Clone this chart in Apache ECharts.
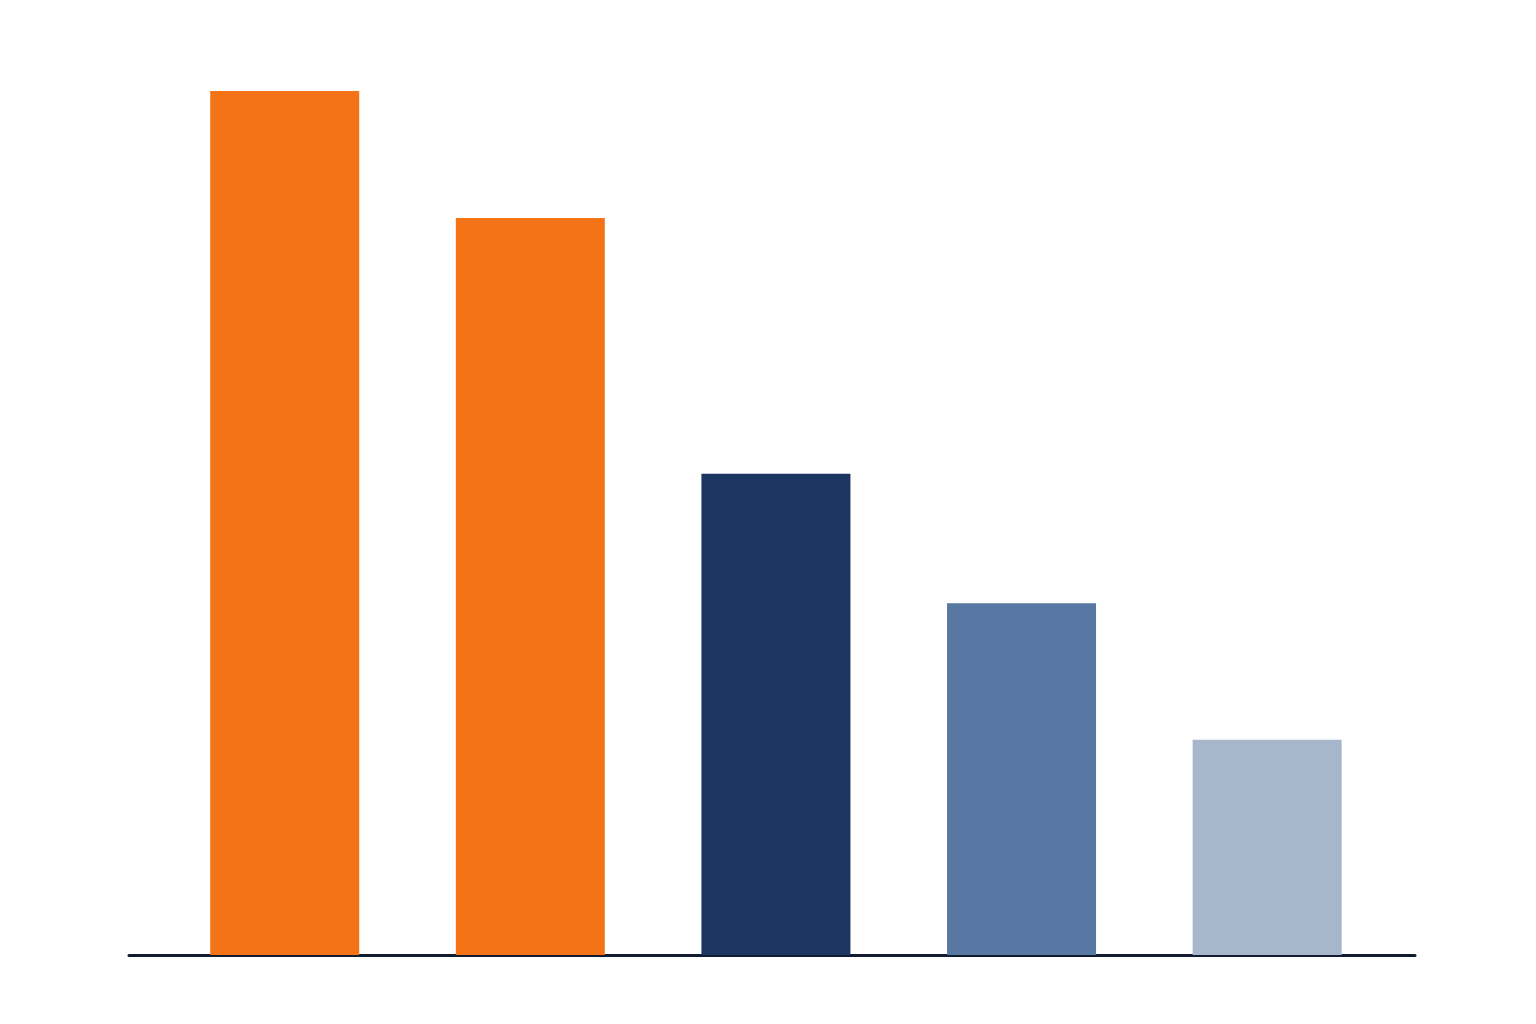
<!DOCTYPE html>
<html>
<head>
<meta charset="utf-8">
<title>Bar chart</title>
<script src="https://cdn.jsdelivr.net/npm/echarts@6/dist/echarts.min.js"></script>
<style>
  html, body { margin: 0; padding: 0; background: #fff; }
  #main { width: 1536px; height: 1024px; }
</style>
</head>
<body>
<div id="main"></div>
<script>
// data (no labels shown in the original)
var categories = ['A', 'B', 'C', 'D', 'E'];
var values = [100, 85.3, 55.7, 40.7, 24.9];
var colors = ['#F37316', '#F37316', '#1D3661', '#5878A3', '#A7B6CB'];

var chart = echarts.init(document.getElementById('main'));

// bars placed by category index on a value axis so the baseline can run wider than the bars
var barData = values.map(function (v, i) {
  return { value: [i, v], name: categories[i], itemStyle: { color: colors[i] } };
});

chart.setOption({
  animation: false,
  grid: { left: 129, right: 121, top: 91, bottom: 69 },
  xAxis: {
    type: 'value',
    min: -0.634,
    max: 4.602,
    splitLine: { show: false },
    axisTick: { show: false },
    axisLabel: { show: false },
    axisLine: { show: true, onZero: false, lineStyle: { color: '#111C30', width: 3 } }
  },
  yAxis: {
    type: 'value',
    min: 0,
    max: 100,
    show: false
  },
  series: [{
    type: 'bar',
    barWidth: 149,
    data: barData,
    z: 1
  }]
});
</script>
</body>
</html>
